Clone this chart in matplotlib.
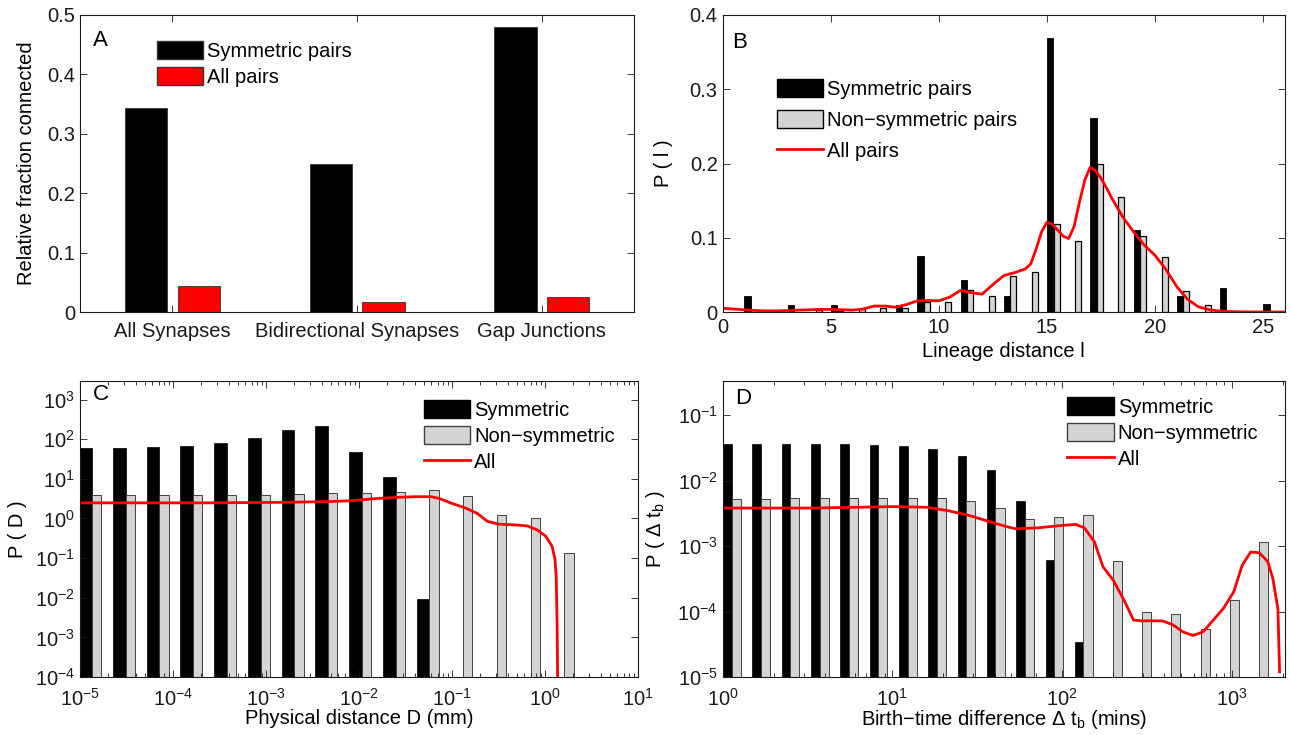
import numpy as np
import matplotlib
matplotlib.use("Agg")
import matplotlib.pyplot as plt
from matplotlib.patches import Patch
from matplotlib.lines import Line2D
from matplotlib.ticker import NullLocator

plt.rcParams['font.family'] = ['Liberation Sans', 'DejaVu Sans']
plt.rcParams['mathtext.fontset'] = 'custom'
plt.rcParams['mathtext.rm'] = 'Liberation Sans'
plt.rcParams['mathtext.it'] = 'Liberation Sans:italic'
plt.rcParams['mathtext.bf'] = 'Liberation Sans:bold'

# ---- panel A: relative fraction connected ----
a_categories = ['All Synapses', 'Bidirectional Synapses', 'Gap Junctions']
a_symmetric = [0.343, 0.250, 0.479]
a_all = [0.044, 0.016, 0.026]

# ---- panel B: lineage distance ----
b_distance = np.arange(26)
b_symmetric = [0, 0.0215, 0, 0.010, 0, 0.010, 0, 0, 0.010, 0.076, 0, 0.043, 0,
               0.0216, 0, 0.369, 0, 0.261, 0, 0.110, 0, 0.0216, 0, 0.032, 0, 0.0108]
b_nonsym = [0, 0, 0, 0, 0.003, 0.002, 0.004, 0.005, 0.005, 0.013, 0.013, 0.029, 0.0216,
            0.0485, 0.054, 0.119, 0.0956, 0.199, 0.155, 0.103, 0.0745, 0.0287, 0.009, 0, 0, 0]
b_all_x = [0, 0.5, 1, 1.5, 2, 2.5, 3, 3.5, 4, 4.5, 5, 5.5, 6, 6.5, 7, 7.5, 8, 8.5, 9,
           9.5, 10, 10.5, 11, 11.5, 12, 12.5, 13, 13.5, 14, 14.25, 14.5, 14.75, 15,
           15.25, 15.5, 15.75, 16, 16.25, 16.5, 16.75, 17, 17.25, 17.5, 17.75, 18, 18.5,
           19, 19.5, 20, 20.5, 21, 21.5, 22, 22.5, 23, 23.5, 24, 25, 26]
b_all_y = [0.005, 0.004, 0.003, 0.002, 0.0015, 0.0015, 0.002, 0.0025, 0.003, 0.0035,
           0.0035, 0.003, 0.0025, 0.004, 0.008, 0.008, 0.0065, 0.010, 0.015, 0.0155,
           0.015, 0.020, 0.029, 0.026, 0.024, 0.037, 0.049, 0.053, 0.058, 0.065, 0.085,
           0.108, 0.121, 0.118, 0.110, 0.102, 0.099, 0.115, 0.148, 0.178, 0.195, 0.190,
           0.180, 0.167, 0.153, 0.128, 0.108, 0.090, 0.076, 0.057, 0.034, 0.017, 0.007,
           0.003, 0.0012, 0.0005, 0.0002, 0, 0]

# ---- panel C: physical distance (mm), log bins ----
c_symmetric = [60, 60, 65, 69, 81, 107, 174, 219, 47, 11, 0.0095]
c_nonsym = [4.0, 4.0, 4.0, 4.0, 4.0, 4.0, 4.1, 4.3, 4.5, 4.8, 5.2, 3.8, 1.26, 1.0, 0.135]
c_all_x = [1e-5, 2.34e-4, 1.82e-3, 5.1e-3, 8.5e-3, 0.0145, 0.024, 0.040, 0.060, 0.074,
           0.10, 0.138, 0.186, 0.24, 0.316, 0.47, 0.645, 0.83, 1.02, 1.19, 1.28, 1.32,
           1.35, 1.38]
c_all_y = [2.48, 2.48, 2.57, 2.69, 2.82, 3.16, 3.39, 3.55, 3.55, 3.16, 2.40, 1.86, 1.35,
           0.85, 0.72, 0.69, 0.65, 0.51, 0.355, 0.20, 0.093, 0.035, 0.002, 1e-5]

# ---- panel D: birth-time difference (mins), log bins ----
d_symmetric = [0.0358, 0.0358, 0.0358, 0.0358, 0.0358, 0.035, 0.034, 0.030, 0.024,
               0.0145, 0.0048, 6.2e-4, 3.4e-5]
d_nonsym = [0.0052, 0.0052, 0.0054, 0.0054, 0.0054, 0.0055, 0.0055, 0.0054, 0.0049,
            0.0038, 0.0026, 0.0028, 0.0030, 5.9e-4, 1.0e-4, 9.3e-5, 5.5e-5, 1.5e-4, 1.15e-3]
d_all_x = [1, 3.36, 10.3, 16.0, 21.2, 28.1, 37.1, 46.3, 53.3, 72.4, 95.5, 120, 135, 155,
           174, 200, 234, 263, 295, 389, 447, 513, 589, 676, 776, 891, 1023, 1148, 1288,
           1445, 1622, 1738, 1862, 1905]
d_all_y = [3.8e-3, 3.8e-3, 4.0e-3, 3.9e-3, 3.47e-3, 2.95e-3, 2.37e-3, 2.0e-3, 1.83e-3,
           1.9e-3, 2.04e-3, 2.14e-3, 1.9e-3, 1.15e-3, 4.8e-4, 3.0e-4, 1.4e-4, 7.4e-5,
           7.2e-5, 7.2e-5, 6.3e-5, 4.9e-5, 4.3e-5, 4.9e-5, 7.4e-5, 1.12e-4, 2.0e-4,
           5.1e-4, 8.1e-4, 7.9e-4, 5.8e-4, 3.2e-4, 1.1e-4, 1.2e-5]

GRAY = '#d4d4d4'
FS = 14.5
W, H = 1290, 735

fig = plt.figure(figsize=(W / 100, H / 100), dpi=100)


def add_ax(left, top, right, bottom):
    return fig.add_axes([left / W, 1 - bottom / H, (right - left) / W, (bottom - top) / H])


def style(ax, xpad=4):
    ax.tick_params(which='both', direction='in', top=True, right=True, labelsize=FS,
                   width=0.6, colors='0.1')
    ax.tick_params(which='major', length=5)
    ax.tick_params(which='minor', length=3)
    ax.tick_params(axis='x', pad=xpad)
    for s in ax.spines.values():
        s.set_linewidth(0.8)
        s.set_color('0.1')


def legend(ax, handles, labels, x, y, spacing):
    ax.legend(handles, labels, loc='upper left', bbox_to_anchor=(x, y), frameon=False,
              fontsize=FS, handlelength=2.3, handleheight=1.0, handletextpad=0.2,
              borderpad=0, borderaxespad=0, labelspacing=spacing)


def log_bars(ax, centers, heights, lo, hi, **kw):
    # grouped bars on a log x axis: offsets given in decades
    c = np.log10(centers)[:len(heights)]
    left = 10 ** (c + lo)
    right = 10 ** (c + hi)
    ax.bar(left, np.array(heights), width=right - left, align='edge', bottom=1e-12, **kw)


# ---------- A ----------
axA = add_ax(80, 15, 634, 312)
xa = np.arange(1, 4)
axA.bar(xa - 0.142, a_symmetric, width=0.23, color='black', edgecolor='0.2', linewidth=0.6)
axA.bar(xa + 0.143, a_all, width=0.23, color='#ff0000', edgecolor='0.2', linewidth=0.6)
axA.set_xlim(0.5, 3.5)
axA.set_ylim(0, 0.5)
axA.set_xticks(xa)
axA.set_xticklabels(a_categories)
axA.set_yticks([0, 0.1, 0.2, 0.3, 0.4, 0.5])
axA.set_yticklabels(['0', '0.1', '0.2', '0.3', '0.4', '0.5'])
axA.set_ylabel('Relative fraction connected', fontsize=FS)
axA.yaxis.set_label_coords(-0.08, 0.5)
style(axA, xpad=7)
axA.text(0.036, 0.915, 'A', transform=axA.transAxes, fontsize=FS + 1.5, ha='center', va='center')
legend(axA, [Patch(facecolor='black', edgecolor='0.2'), Patch(facecolor='#ff0000', edgecolor='0.2')],
       ['Symmetric pairs', 'All pairs'], 0.139, 0.912, 0.28)

# ---------- B ----------
axB = add_ax(722.5, 15, 1285, 312)
bs = np.array(b_symmetric)
bn = np.array(b_nonsym)
ms = bs > 0
mn = bn > 0
axB.bar(b_distance[ms] + 0.15, bs[ms], width=0.29, color='black', edgecolor='black', linewidth=0.6)
axB.bar(b_distance[mn] + 0.44, bn[mn], width=0.28, color=GRAY, edgecolor='black', linewidth=0.9)
axB.plot(b_all_x, b_all_y, color='red', linewidth=2.0)
axB.set_xlim(0, 26)
axB.set_ylim(0, 0.4)
axB.set_xticks([0, 5, 10, 15, 20, 25])
axB.set_yticks([0, 0.1, 0.2, 0.3, 0.4])
axB.set_yticklabels(['0', '0.1', '0.2', '0.3', '0.4'])
axB.set_xlabel('Lineage distance l', fontsize=FS)
axB.set_ylabel('P ( l )', fontsize=FS)
axB.xaxis.set_label_coords(0.5, -0.1)
axB.yaxis.set_label_coords(-0.088, 0.5)
style(axB)
axB.text(0.031, 0.909, 'B', transform=axB.transAxes, fontsize=FS + 1.5, ha='center', va='center')
legend(axB, [Patch(facecolor='black', edgecolor='black'), Patch(facecolor=GRAY, edgecolor='black'),
             Line2D([], [], color='red', linewidth=2.0)],
       ['Symmetric pairs', 'Non\u2212symmetric pairs', 'All pairs'], 0.097, 0.785, 0.55)

# ---------- C ----------
axC = add_ax(80, 381, 638, 677)
c_centers = np.logspace(-4.873, -4.873 + 0.363 * 14, 15)  # shared log-spaced bin centres
log_bars(axC, c_centers, c_symmetric, -0.137, 0.0, color='black', edgecolor='black', linewidth=0.5)
log_bars(axC, c_centers, c_nonsym, 0.0, 0.10, color=GRAY, edgecolor='0.25', linewidth=0.7)
axC.plot(c_all_x, c_all_y, color='red', linewidth=2.0)
axC.set_xscale('log')
axC.set_yscale('log')
axC.set_xlim(1e-5, 10)
axC.set_ylim(1e-4, 10 ** 3.47)
axC.set_xticks([1e-5, 1e-4, 1e-3, 1e-2, 1e-1, 1, 10])
axC.set_yticks([1e-4, 1e-3, 1e-2, 1e-1, 1, 10, 100, 1000])
axC.yaxis.set_minor_locator(NullLocator())
axC.set_xlabel('Physical distance D (mm)', fontsize=FS)
axC.set_ylabel('P ( D )', fontsize=FS)
axC.xaxis.set_label_coords(0.5, -0.108)
axC.yaxis.set_label_coords(-0.095, 0.5)
style(axC, xpad=8)
axC.text(0.038, 0.955, 'C', transform=axC.transAxes, fontsize=FS + 1.5, ha='center', va='center')
legend(axC, [Patch(facecolor='black', edgecolor='black'), Patch(facecolor=GRAY, edgecolor='0.25'),
             Line2D([], [], color='red', linewidth=2.0)],
       ['Symmetric', 'Non\u2212symmetric', 'All'], 0.616, 0.935, 0.3)

# ---------- D ----------
axD = add_ax(722.5, 381, 1285, 677)
d_centers = np.logspace(0.053, 0.053 + 0.1727 * 18, 19)  # shared log-spaced bin centres
log_bars(axD, d_centers, d_symmetric, -0.051, 0.0, color='black', edgecolor='black', linewidth=0.5)
log_bars(axD, d_centers, d_nonsym, 0.0, 0.053, color=GRAY, edgecolor='0.25', linewidth=0.7)
axD.plot(d_all_x, d_all_y, color='red', linewidth=2.0)
axD.set_xscale('log')
axD.set_yscale('log')
axD.set_xlim(1, 2050)
axD.set_ylim(1e-5, 10 ** -0.48)
axD.set_xticks([1, 10, 100, 1000])
axD.set_yticks([1e-5, 1e-4, 1e-3, 1e-2, 1e-1])
axD.yaxis.set_minor_locator(NullLocator())
axD.set_xlabel('Birth\u2212time difference \u0394 t$_\\mathregular{b}$ (mins)', fontsize=FS)
axD.set_ylabel('P ( \u0394 t$_\\mathregular{b}$ )', fontsize=FS)
axD.xaxis.set_label_coords(0.5, -0.105)
axD.yaxis.set_label_coords(-0.098, 0.5)
style(axD, xpad=8)
axD.text(0.037, 0.94, 'D', transform=axD.transAxes, fontsize=FS + 1.5, ha='center', va='center')
legend(axD, [Patch(facecolor='black', edgecolor='black'), Patch(facecolor=GRAY, edgecolor='0.25'),
             Line2D([], [], color='red', linewidth=2.0)],
       ['Symmetric', 'Non\u2212symmetric', 'All'], 0.613, 0.945, 0.3)

fig.savefig('out.png', dpi=100)
